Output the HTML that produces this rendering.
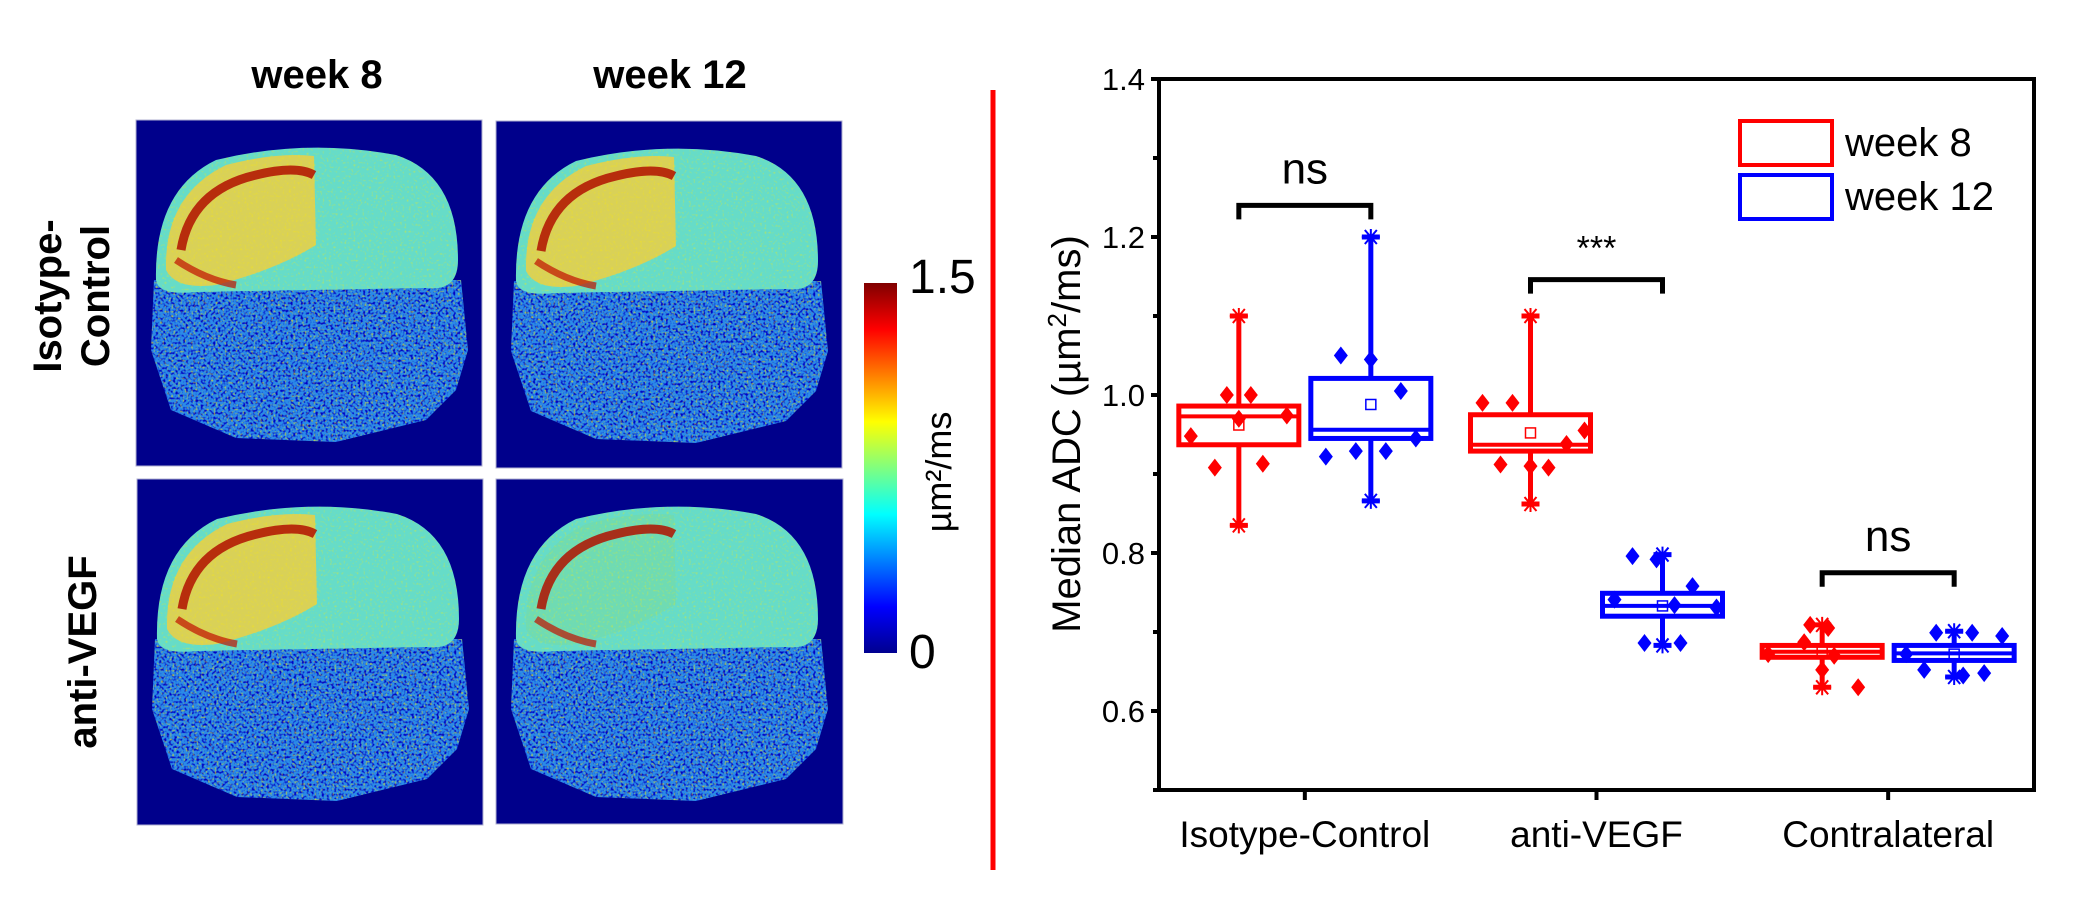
<!DOCTYPE html>
<html><head><meta charset="utf-8"><style>
html,body{margin:0;padding:0;background:#fff;}
svg{display:block;font-family:"Liberation Sans",Arial,sans-serif;}
</style></head><body>
<svg id="fig" width="2076" height="900" viewBox="0 0 2076 900" xmlns="http://www.w3.org/2000/svg">
<defs>
<linearGradient id="jet" x1="0" y1="1" x2="0" y2="0">
<stop offset="0" stop-color="#00008f"/><stop offset="0.125" stop-color="#0000ff"/><stop offset="0.375" stop-color="#00ffff"/><stop offset="0.625" stop-color="#ffff00"/><stop offset="0.875" stop-color="#ff0000"/><stop offset="1" stop-color="#800000"/>
</linearGradient>
<filter id="noise" x="0" y="0" width="100%" height="100%">
<feTurbulence type="fractalNoise" baseFrequency="0.4" numOctaves="1" seed="3"/>
<feColorMatrix type="matrix" values="0 0 0 0 0  0 0 0 0 0  0 0 0 0 0.55  0 0 0 4 -1.9"/>
<feComposite in2="SourceGraphic" operator="in"/>
</filter>
<filter id="noise2" x="0" y="0" width="100%" height="100%">
<feTurbulence type="fractalNoise" baseFrequency="0.45" numOctaves="1" seed="9"/>
<feColorMatrix type="matrix" values="0 0 0 0 1  0 0 0 0 0.85  0 0 0 0 0  0 0 0 4 -2.2"/>
<feComposite in2="SourceGraphic" operator="in"/>
</filter>
</defs>
<g id="left">
<text x="317" y="88" font-size="40" font-weight="bold" text-anchor="middle">week 8</text>
<text x="670" y="88" font-size="40" font-weight="bold" text-anchor="middle">week 12</text>
<text transform="translate(61,296) rotate(-90)" font-size="40" font-weight="bold" text-anchor="middle"><tspan x="0" dy="0">Isotype-</tspan><tspan x="0" dy="48">Control</tspan></text>
<text transform="translate(96,652) rotate(-90)" font-size="40" font-weight="bold" text-anchor="middle">anti-VEGF</text>
<rect x="864" y="283" width="33" height="370" fill="url(#jet)"/>
<text x="909" y="293" font-size="48">1.5</text>
<text x="909" y="668" font-size="48">0</text>
<text transform="translate(951,472) rotate(-90)" font-size="36" text-anchor="middle">µm²/ms</text>
</g>
<line x1="993" y1="90" x2="993" y2="870" stroke="#f00" stroke-width="5"/>
<g id="chart"></g>
</svg>
<script>
const NS="http://www.w3.org/2000/svg";
function mk(p,t,a){const e=document.createElementNS(NS,t);for(const k in a)e.setAttribute(k,a[k]);p.appendChild(e);return e;}
// ---- brain maps ----
const left=document.getElementById('left');
const panels=[[136,120,346,346],[496,121,346,347],[137,479,346,346],[496,479,347,345]];
panels.forEach((p,i)=>{
  const g=mk(left,'g',{transform:`translate(${p[0]},${p[1]})`});
  
  
  mk(g,'rect',{x:0,y:0,width:p[2],height:p[3],fill:'#00008b',stroke:'#b0b0d0','stroke-width':1});
  const low='M18,160 L325,160 L332,230 L320,270 L290,300 L200,322 L100,318 L35,290 L15,230 Z';
  mk(g,'path',{d:low,fill:'#2a8ae8'});
  mk(g,'path',{d:low,fill:'#000',filter:'url(#noise)'});
  mk(g,'path',{d:low,fill:'#000',filter:'url(#noise2)',opacity:'0.6'});
  const up='M20,160 Q18,70 80,40 Q170,18 260,35 Q322,55 322,140 Q322,172 290,168 L60,172 Q22,176 20,160 Z';
  mk(g,'path',{d:up,fill:'#66dcc8'});
  mk(g,'path',{d:'M30,150 Q28,75 90,45 Q140,32 178,36 L180,125 Q140,150 80,165 Q40,170 30,150 Z',fill:i==3?'#70dab0':'#e6cf4a',opacity:'0.9'});
  mk(g,'path',{d:up,fill:'#000',filter:'url(#noise2)',opacity:'0.35'});
  mk(g,'path',{d:'M45,130 Q55,70 120,55 Q160,45 178,55',fill:'none',stroke:'#b01000','stroke-width':9,opacity:'0.85'});
  mk(g,'path',{d:'M40,140 Q70,160 100,165',fill:'none',stroke:'#c01000','stroke-width':7,opacity:'0.7'});
});
// ---- chart data ----
const yTicks=[0.6,0.8,1.0,1.2,1.4];
const yTickLabels=['0.6','0.8','1.0','1.2','1.4'];
const yMinorTicks=[0.5,0.7,0.9,1.1,1.3];
const categories=['Isotype-Control','anti-VEGF','Contralateral'];
const boxQ1_w8=[0.937,0.929,0.668], boxQ3_w8=[0.986,0.975,0.683], med_w8=[0.973,0.937,0.675], mean_w8=[0.962,0.952,0.676], wLo_w8=[0.835,0.862,0.630], wHi_w8=[1.10,1.10,0.709];
const boxQ1_w12=[0.945,0.720,0.664], boxQ3_w12=[1.021,0.749,0.683], med_w12=[0.956,0.733,0.673], mean_w12=[0.988,0.733,0.672], wLo_w12=[0.866,0.683,0.643], wHi_w12=[1.20,0.798,0.701];
const pts_w8=[[1.0,1.0,0.97,0.974,0.948,0.908,0.913],[0.99,0.99,0.955,0.938,0.912,0.91,0.908],[0.709,0.705,0.687,0.670,0.652,0.630,0.672]];
const pts_w12=[[1.05,1.045,1.005,0.945,0.922,0.929,0.929],[0.796,0.792,0.758,0.741,0.734,0.731,0.686,0.686],[0.699,0.699,0.695,0.652,0.648,0.645,0.672]];
const jit_w8=[[-0.2,0.2,0,0.8,-0.8,-0.4,0.4],[-0.8,-0.3,0.9,0.6,-0.5,0,0.3],[-0.2,0.1,-0.3,0.2,0,0.6,-0.9]];
const jit_w12=[[-0.5,0,0.5,0.75,-0.75,-0.25,0.25],[-0.5,-0.1,0.5,-0.8,0.2,0.9,-0.3,0.3],[-0.3,0.3,0.8,-0.5,0.5,0.15,-0.8]];
const sigLabels=['ns','***','ns'], sigY=[1.24,1.146,0.775];
const legendLabels=['week 8','week 12'];
const L=1159,R=2034,T=79,B=790,ymin=0.5,ymax=1.4;
const y=v=>B-(v-ymin)/(ymax-ymin)*(B-T);
const xc=i=>L+(R-L)*(2*i+1)/6;
const BW=120, OFF=66;
const ch=document.getElementById('chart');
const frame=mk(ch,'rect',{x:L,y:T,width:R-L,height:B-T,fill:'none',stroke:'#000','stroke-width':4});


yTicks.forEach((v,i)=>{
  mk(ch,'line',{x1:L-8,x2:L,y1:y(v),y2:y(v),stroke:'#000','stroke-width':4});
  const t=mk(ch,'text',{x:L-14,y:y(v)+11,'font-size':31,'text-anchor':'end'});t.textContent=yTickLabels[i];
  
  
});
yMinorTicks.forEach(v=>mk(ch,'line',{x1:L-6,x2:L,y1:y(v),y2:y(v),stroke:'#000','stroke-width':4}));
categories.forEach((c,i)=>{
  mk(ch,'line',{x1:xc(i),x2:xc(i),y1:B,y2:B+10,stroke:'#000','stroke-width':4});
  const t=mk(ch,'text',{x:xc(i),y:847,'font-size':37,'text-anchor':'middle'});t.textContent=c;
  
  
});
const yl=mk(ch,'text',{transform:'translate(1080,434) rotate(-90)','font-size':40,'text-anchor':'middle'});
yl.innerHTML='Median ADC (µm<tspan dy="-14" font-size="26">2</tspan><tspan dy="14">/ms)</tspan>';


function star(g,x,yy,col){
  mk(g,'path',{d:`M${x-9},${yy}H${x+9}M${x-6},${yy-7}L${x+6},${yy+7}M${x+6},${yy-7}L${x-6},${yy+7}M${x},${yy-8}V${yy+8}`,stroke:col,'stroke-width':2,fill:'none'});
}
function box(i,off,col,q1,q3,md,mn,lo,hi,pts,jit,name){
  const g=mk(ch,'g',{});
  
  
  const cx=xc(i)+off,w=BW;
  mk(g,'line',{x1:cx,x2:cx,y1:y(hi),y2:y(lo),stroke:col,'stroke-width':5});
  mk(g,'line',{x1:cx-9,x2:cx+9,y1:y(hi),y2:y(hi),stroke:col,'stroke-width':5});
  mk(g,'line',{x1:cx-9,x2:cx+9,y1:y(lo),y2:y(lo),stroke:col,'stroke-width':5});
  star(g,cx,y(hi),col);star(g,cx,y(lo),col);
  mk(g,'rect',{x:cx-w/2,y:y(q3),width:w,height:y(q1)-y(q3),fill:'#fff',stroke:col,'stroke-width':5});
  mk(g,'line',{x1:cx-w/2,x2:cx+w/2,y1:y(md),y2:y(md),stroke:col,'stroke-width':4});
  mk(g,'rect',{x:cx-5,y:y(mn)-5,width:10,height:10,fill:'none',stroke:col,'stroke-width':1.5});
  pts.forEach((v,k)=>{const px=cx+(jit[k]||0)*w/2,py=y(v);
    const d=mk(g,'path',{d:`M${px},${py-9}L${px+7},${py}L${px},${py+9}L${px-7},${py}Z`,fill:col});
    
    
  });
}
categories.forEach((c,i)=>{
  box(i,-OFF,'#f00',boxQ1_w8[i],boxQ3_w8[i],med_w8[i],mean_w8[i],wLo_w8[i],wHi_w8[i],pts_w8[i],jit_w8[i],'box-week8-'+i);
  box(i,OFF,'#00f',boxQ1_w12[i],boxQ3_w12[i],med_w12[i],mean_w12[i],wLo_w12[i],wHi_w12[i],pts_w12[i],jit_w12[i],'box-week12-'+i);
  const by=y(sigY[i]);
  mk(ch,'path',{d:`M${xc(i)-OFF},${by+14}V${by}H${xc(i)+OFF}V${by+14}`,fill:'none',stroke:'#000','stroke-width':5});
  const isStar=sigLabels[i]==='***';
  const t=mk(ch,'text',{x:xc(i),y:by-(isStar?20:22),'font-size':isStar?34:44,'text-anchor':'middle'});t.textContent=sigLabels[i];
  
  
});
['#f00','#00f'].forEach((col,k)=>{
  const g=mk(ch,'g',{});
  
  
  mk(g,'rect',{x:1740,y:121+k*54,width:92,height:44,fill:'none',stroke:col,'stroke-width':4});
  const t=mk(g,'text',{x:1845,y:156+k*54,'font-size':40});t.textContent=legendLabels[k];
});
</script>
</body></html>
